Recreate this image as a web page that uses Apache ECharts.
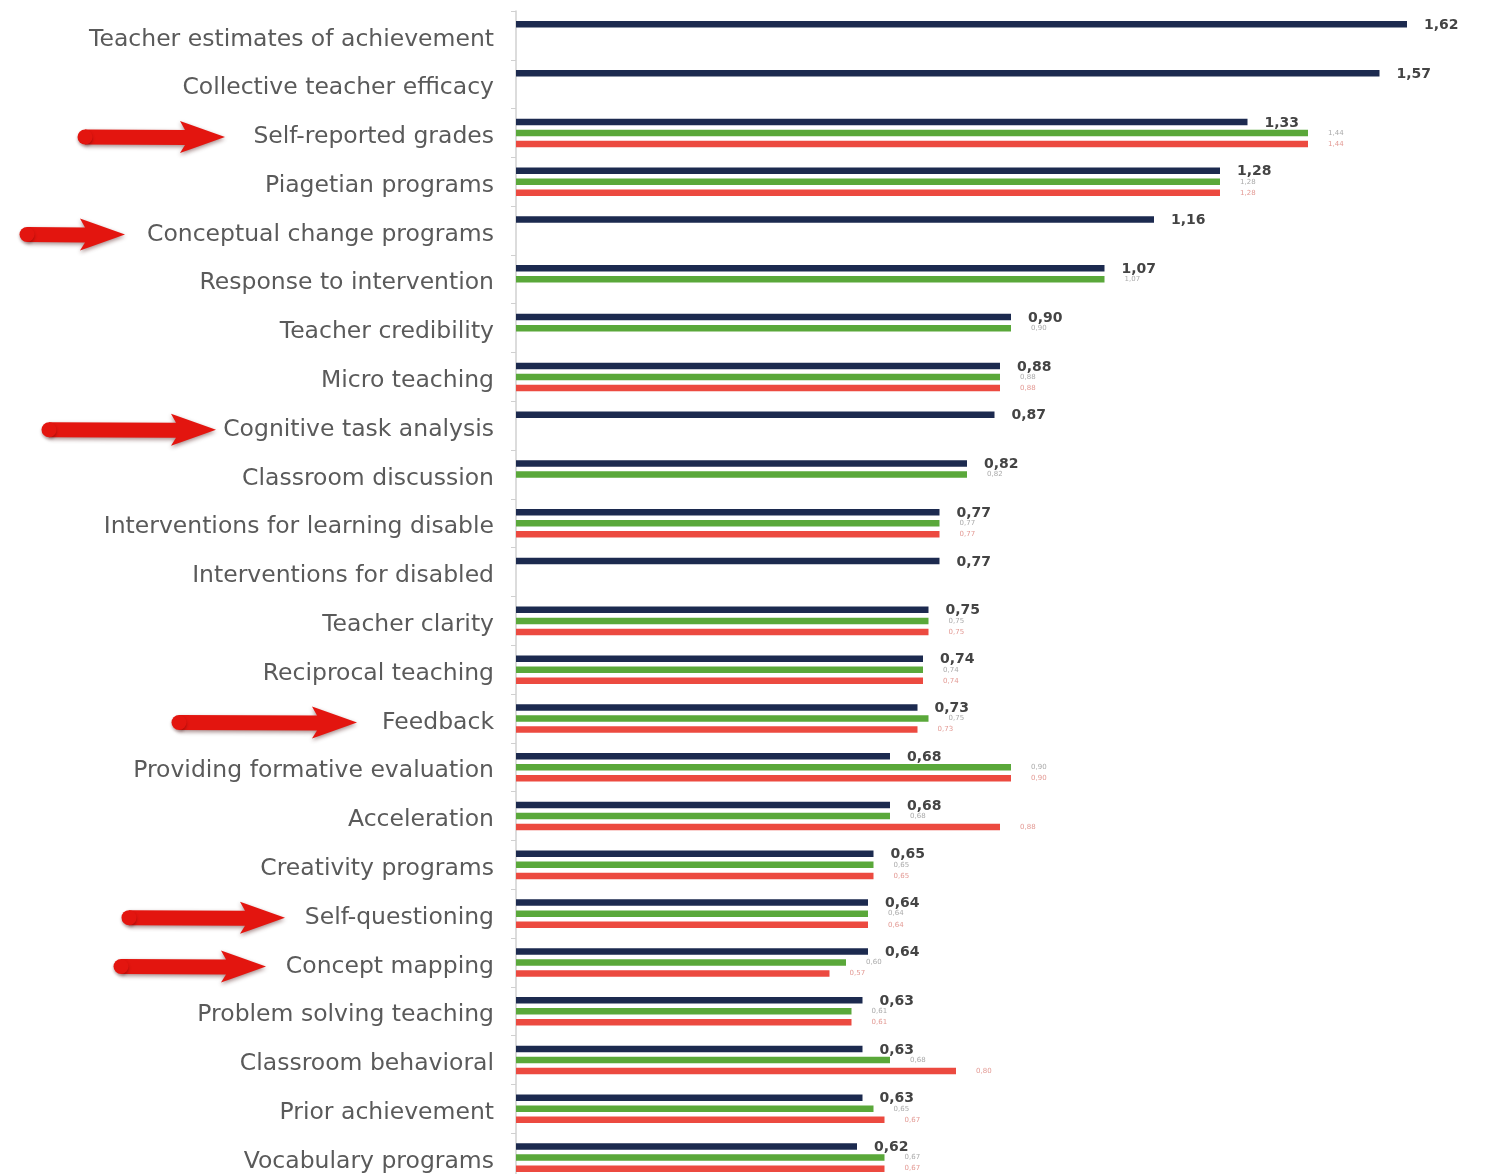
<!DOCTYPE html>
<html>
<head>
<meta charset="utf-8">
<script src="https://cdn.jsdelivr.net/npm/echarts@6/dist/echarts.min.js"></script>
<style>
html,body{margin:0;padding:0;background:#fff;overflow:hidden;}
#chart{width:1509px;height:1200px;}
</style>
</head>
<body>
<div id="chart"></div>
<script>
const categories = [
  'Teacher estimates of achievement','Collective teacher efficacy','Self-reported grades','Piagetian programs',
  'Conceptual change programs','Response to intervention','Teacher credibility','Micro teaching',
  'Cognitive task analysis','Classroom discussion','Interventions for learning disable','Interventions for disabled',
  'Teacher clarity','Reciprocal teaching','Feedback','Providing formative evaluation','Acceleration',
  'Creativity programs','Self-questioning','Concept mapping','Problem solving teaching','Classroom behavioral',
  'Prior achievement','Vocabulary programs'
];
const navyValues = [1.62,1.57,1.33,1.28,1.16,1.07,0.90,0.88,0.87,0.82,0.77,0.77,0.75,0.74,0.73,0.68,0.68,0.65,0.64,0.64,0.63,0.63,0.63,0.62];
const greenValues = [null,null,1.44,1.28,null,1.07,0.90,0.88,null,0.82,0.77,null,0.75,0.74,0.75,0.90,0.68,0.65,0.64,0.60,0.61,0.68,0.65,0.67];
const redValues = [null,null,1.44,1.28,null,null,null,0.88,null,null,0.77,null,0.75,0.74,0.73,0.90,0.88,0.65,0.64,0.57,0.61,0.80,0.67,0.67];
const arrowCategories = ['Self-reported grades','Conceptual change programs','Cognitive task analysis','Feedback','Self-questioning','Concept mapping'];
const arrowTails = [78,20,42,172,122,114];
const arrowTips = [225,125,216,357,285,266];

const fmt = p => p.value == null ? '' : Number(p.value).toFixed(2).replace('.', ',');

const chart = echarts.init(document.getElementById('chart'), null, {renderer:'canvas'});
const option = {
  animation:false,
  backgroundColor:'#fff',
  grid:{left:516, top:11, width:990, height:1171, containLabel:false},
  xAxis:{type:'value', min:0, max:1.8, show:false, splitLine:{show:false}},
  yAxis:{
    type:'category', data:categories, inverse:true,
    axisLine:{show:true, lineStyle:{color:'#d0d0d0', width:1.5}},
    axisTick:{show:true, length:5, lineStyle:{color:'#d0d0d0'}},
    axisLabel:{margin:22, formatter:v => '{a|' + v + '}',
      rich:{a:{fontFamily:'DejaVu Sans, sans-serif', fontSize:23.5, color:'#5a5a5a', padding:[8,0,0,0]}}}
  },
  series:[
    {type:'bar', name:'navy', data:navyValues, barWidth:6.5, barGap:'70%', itemStyle:{color:'#1c2a4f'},
     label:{show:true, position:'right', distance:17, formatter:fmt, fontFamily:'DejaVu Sans, sans-serif', fontWeight:'bold', fontSize:14, color:'#444', offset:[0,1]}},
    {type:'bar', name:'green', data:greenValues, barWidth:6.5, barGap:'70%', itemStyle:{color:'#5aa83a'},
     label:{show:true, position:'right', distance:20, formatter:fmt, fontFamily:'DejaVu Sans, sans-serif', fontSize:7, color:'#aaa'}},
    {type:'bar', name:'red', data:redValues, barWidth:6.5, barGap:'70%', itemStyle:{color:'#ec4a40'},
     label:{show:true, position:'right', distance:20, formatter:fmt, fontFamily:'DejaVu Sans, sans-serif', fontSize:7, color:'#e39a94'}}
  ]
};
chart.setOption(option);

// annotation arrows pointing at highlighted categories
const graphics = arrowCategories.map((c, i) => {
  const y = chart.convertToPixel({yAxisIndex:0}, c) + 4;
  const x0 = arrowTails[i], x1 = arrowTips[i];
  const headLen = 40, sh = 7.5, hh = 16;
  const xb = x1 - headLen;
  return {
    type:'group',
    children:[
      {type:'polygon', shape:{points:[[x0+7,y-sh],[xb,y-sh+0.5],[xb-5,y-hh],[x1,y],[xb-5,y+hh],[xb,y+sh+0.5],[x0+7,y+sh]]},
       style:{fill:'#e3150f', shadowBlur:4, shadowColor:'rgba(60,0,0,0.45)', shadowOffsetY:2}},
      {type:'circle', shape:{cx:x0+7, cy:y, r:sh}, style:{fill:'#e3150f', shadowBlur:3, shadowColor:'rgba(60,0,0,0.35)', shadowOffsetY:2}}
    ]
  };
});
chart.setOption({graphic:graphics});
</script>
</body>
</html>
